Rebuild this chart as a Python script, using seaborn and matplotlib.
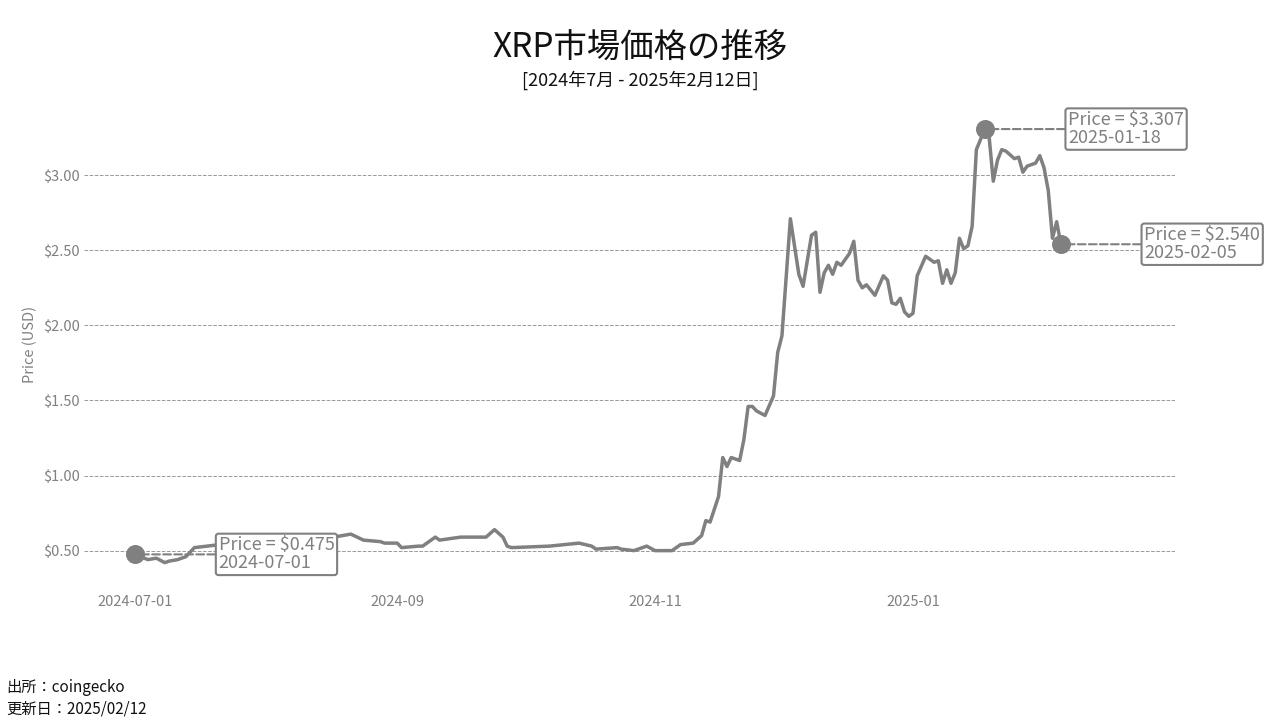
import matplotlib
matplotlib.use("Agg")
import matplotlib.pyplot as plt
import matplotlib.dates as mdates
import seaborn as sns
import pandas as pd
import numpy as np

start_date = "2024-07-01"
day_offsets = [0, 3, 5, 7, 8, 10, 12, 13, 14, 20, 27, 39, 47, 51, 54, 58, 59, 62, 63, 67, 68, 71, 72, 77, 83, 85, 87, 88, 89,
               98, 105, 108, 109, 114, 115, 118, 120, 121, 123, 127, 129, 132, 134, 135, 136, 138, 139, 140, 141, 143,
               144, 145, 146, 147, 149, 151, 152, 153, 155, 157, 158, 160, 161, 162, 163, 164, 165, 166, 167, 169,
               170, 171, 172, 173, 175, 177, 178, 179, 180, 181, 182, 183, 184, 185, 187, 189, 190, 191, 192, 193,
               194, 195, 196, 197, 198, 199, 201, 202, 203, 204, 205, 206, 208, 209, 210, 211, 213, 214, 215, 216,
               217, 218, 219]
prices = [0.475, 0.44, 0.45, 0.42, 0.43, 0.44, 0.46, 0.49, 0.52, 0.54, 0.57, 0.59, 0.59, 0.61, 0.57, 0.56, 0.55, 0.55, 0.52,
          0.53, 0.53, 0.59, 0.57, 0.59, 0.59, 0.64, 0.59, 0.53, 0.52,
          0.53, 0.55, 0.53, 0.51, 0.52, 0.51, 0.50, 0.52, 0.53, 0.50, 0.50, 0.54, 0.55, 0.60, 0.70, 0.69, 0.86,
          1.12, 1.06, 1.12, 1.10, 1.24, 1.46, 1.46, 1.43, 1.40, 1.53, 1.82, 1.93, 2.71, 2.34, 2.26, 2.60, 2.62,
          2.22, 2.35, 2.40, 2.34, 2.42, 2.40, 2.48, 2.56, 2.30, 2.25, 2.27, 2.20, 2.33, 2.30, 2.15, 2.14, 2.18,
          2.09, 2.06, 2.08, 2.33, 2.46, 2.42, 2.43, 2.28, 2.37, 2.28, 2.35, 2.58, 2.51, 2.53, 2.66, 3.17, 3.307,
          3.26, 2.96, 3.10, 3.17, 3.16, 3.11, 3.12, 3.02, 3.06, 3.08, 3.13, 3.05, 2.90, 2.58, 2.69, 2.540]
marked_dates = ["2024-07-01", "2025-01-18", "2025-02-05"]
marked_prices = [0.475, 3.307, 2.540]
yticks = [0.5, 1.0, 1.5, 2.0, 2.5, 3.0]
xticks = ["2024-07-01", "2024-09-01", "2024-11-01", "2025-01-01"]
xticklabels = ["2024-07-01", "2024-09", "2024-11", "2025-01"]

sns.set_style("white")
plt.rcParams['font.family'] = ['Noto Sans CJK JP', 'DejaVu Sans']

df = pd.DataFrame({"date": pd.Timestamp(start_date) + pd.to_timedelta(day_offsets, unit="D"), "price": prices})
gray = "#808080"

fig = plt.figure(figsize=(12.8, 7.2), dpi=100)
ax = fig.add_axes([0.066, 0.181, 0.852, 0.68])
sns.lineplot(data=df, x="date", y="price", ax=ax, color=gray, linewidth=2.5)

for d, p in zip(marked_dates, marked_prices):
    dt = pd.Timestamp(d)
    ax.scatter([dt], [p], s=160, color=gray, zorder=5)
    ax.annotate(f"Price = ${p:.3f}\n{d}", xy=(dt, p), xytext=(60, 0), textcoords="offset points",
                ha="left", va="center", fontsize=13, color=gray, linespacing=1.0,
                bbox=dict(boxstyle="round,pad=0.15", fc="white", ec=gray, lw=1.5),
                arrowprops=dict(arrowstyle="-", linestyle="--", color=gray, lw=1.5, shrinkA=0, shrinkB=6),
                zorder=6)

ax.set_xlim(pd.Timestamp(start_date) - pd.Timedelta(days=12), pd.Timestamp(start_date) + pd.Timedelta(days=246))
ax.set_ylim(0.24, 3.5)
ax.set_yticks(yticks)
ax.set_yticklabels([f"${v:.2f}" for v in yticks])
ax.set_xticks([pd.Timestamp(x) for x in xticks])
ax.set_xticklabels(xticklabels)
ax.tick_params(colors=gray, labelsize=10.5, length=0)
ax.yaxis.grid(True, linestyle="--", color="#999999", linewidth=0.7)
ax.xaxis.grid(False)
for s in ax.spines.values():
    s.set_visible(False)
ax.set_xlabel("")
ax.set_ylabel("Price (USD)", color=gray, fontsize=10.5)

fig.text(0.5, 0.935, "XRP市場価格の推移", ha="center", va="center", fontsize=24, color="#111111")
fig.text(0.5, 0.888, "[2024年7月 - 2025年2月12日]", ha="center", va="center", fontsize=13, color="#111111")
fig.text(0.005, 0.045, "出所：coingecko", ha="left", va="center", fontsize=11, color="#111111")
fig.text(0.005, 0.015, "更新日：2025/02/12", ha="left", va="center", fontsize=11, color="#111111")

fig.savefig("out.png", dpi=100)
